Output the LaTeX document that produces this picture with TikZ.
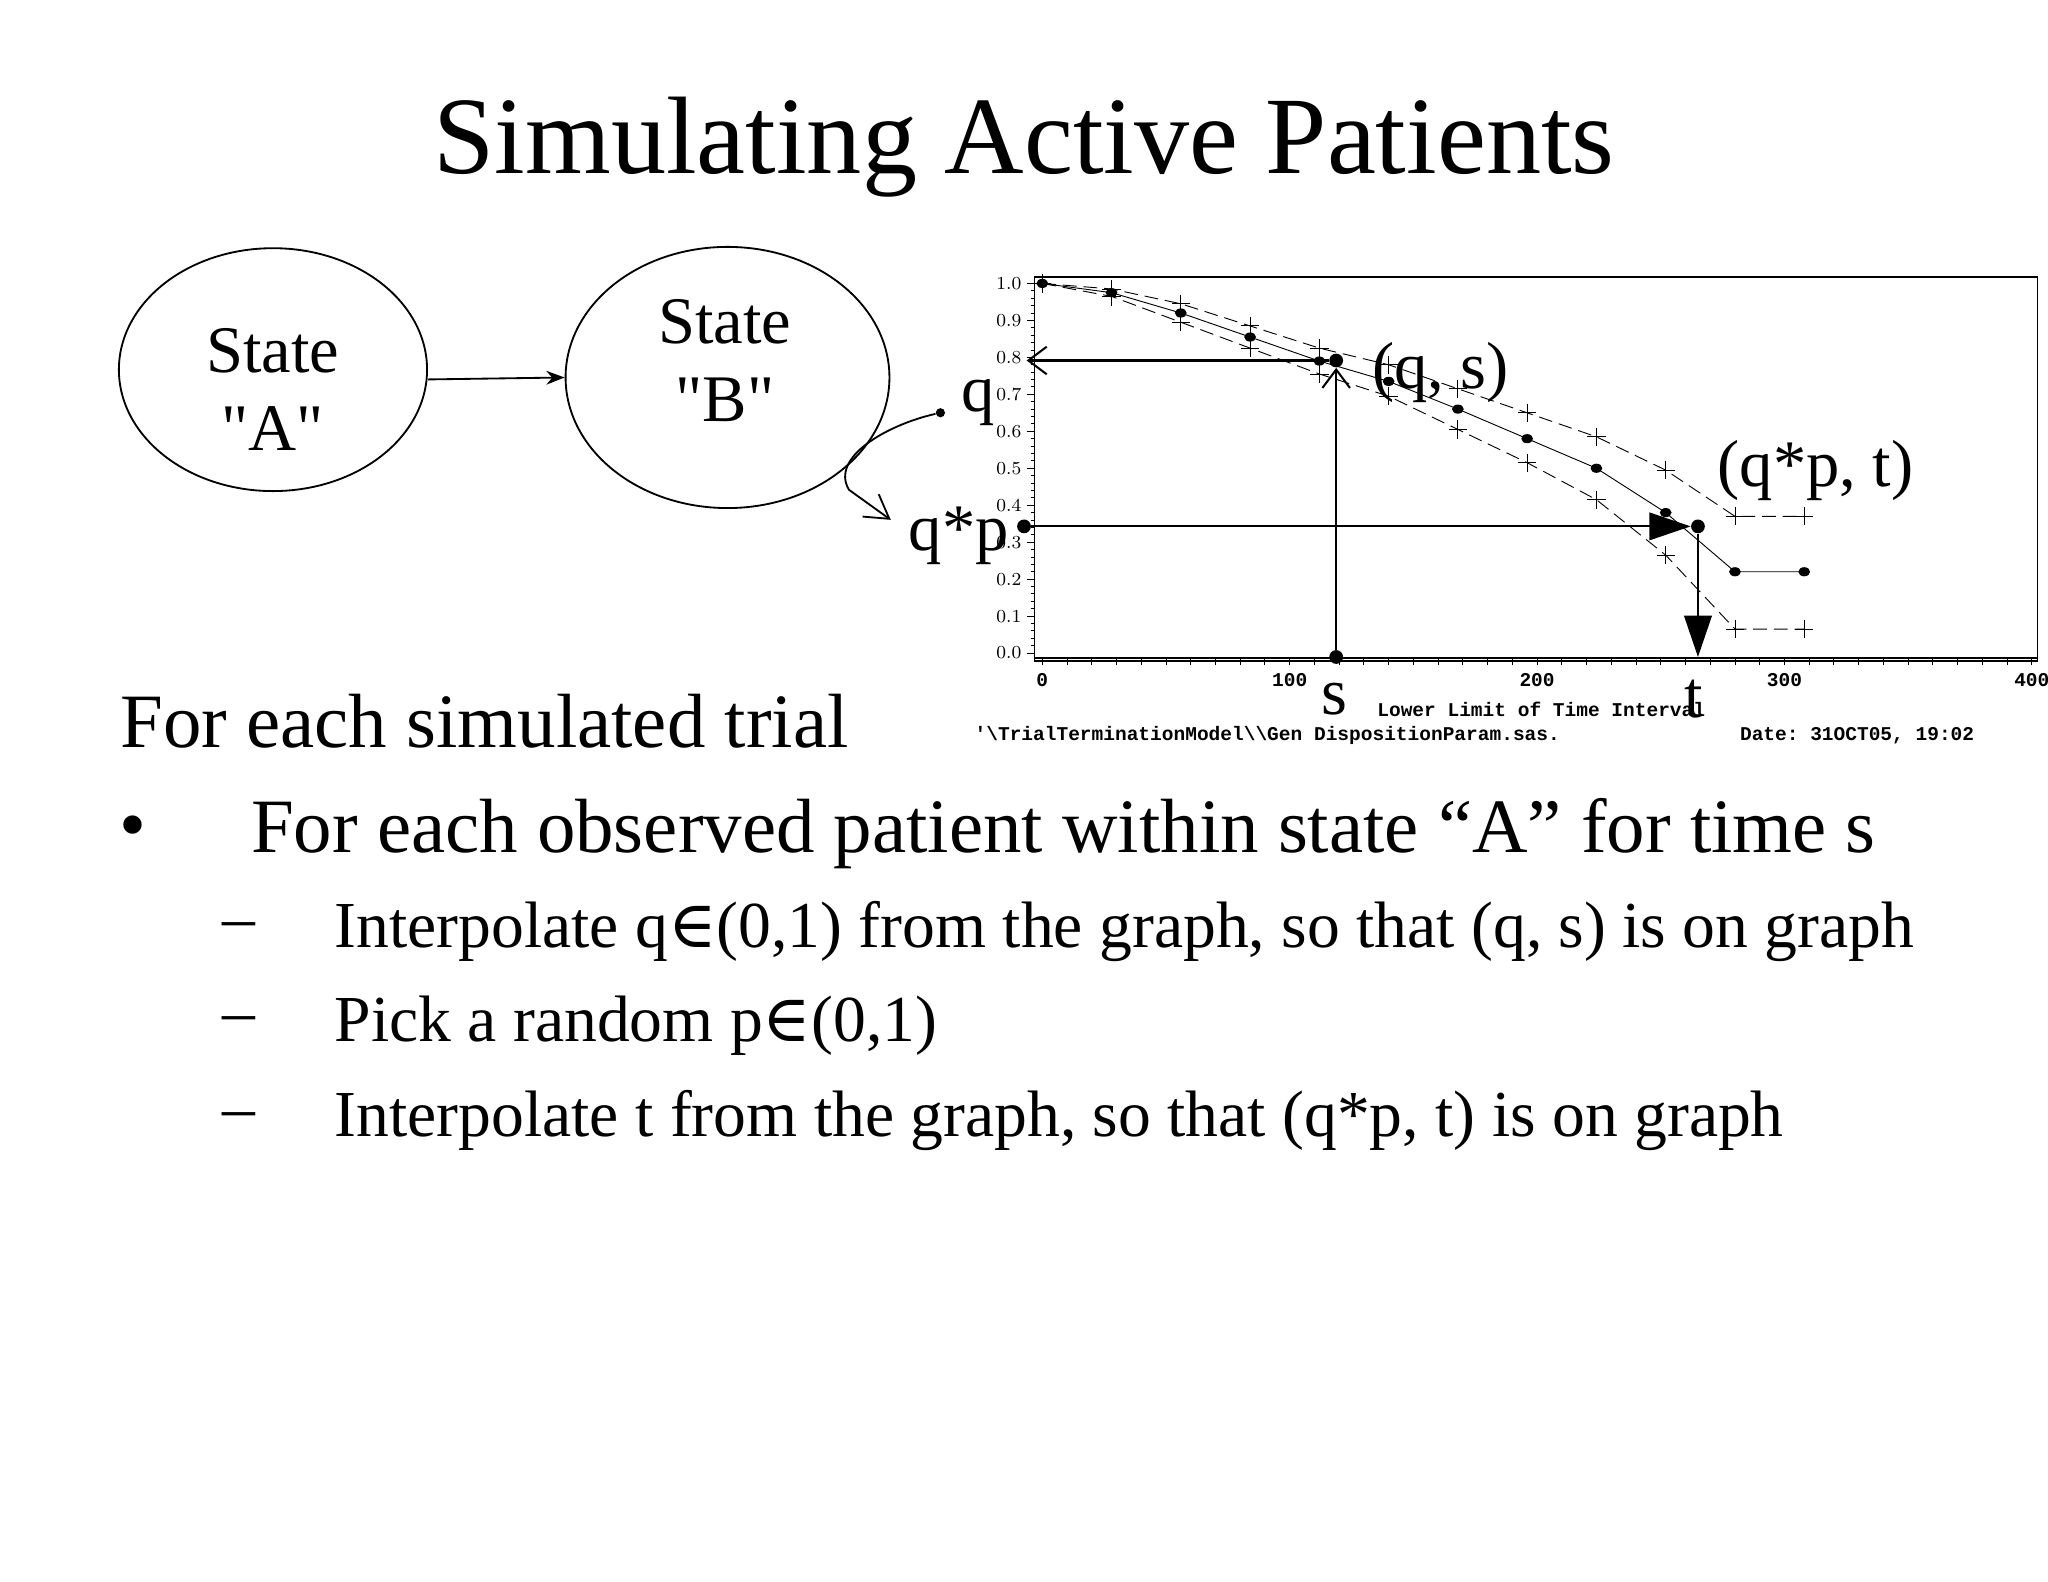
\documentclass[tikz,border=0pt]{standalone}
\usepackage{fontspec}
\setmainfont{Liberation Serif}
\setmonofont{Liberation Mono}
\newfontfamily\symfont{DejaVu Serif}
\usetikzlibrary{arrows.meta,shapes.geometric}
\begin{document}
\begin{tikzpicture}[x=0.02cm,y=-0.02cm,
  st/.style={draw,ellipse,inner sep=0pt,line width=0.8pt},
  big/.style={font=\fontsize{29}{34}\selectfont},
  body/.style={font=\fontsize{33.5}{38}\selectfont},
  sub/.style={font=\fontsize{28.6}{33}\selectfont},
  tick/.style={font=\ttfamily\bfseries\fontsize{8.5}{9}\selectfont},
  dot/.style={circle,fill,inner sep=0pt,minimum size=6pt},
  arr/.style={line width=0.9pt}]
\useasboundingbox (0,0) rectangle (1568,1211);
\def\X#1{798+#1*1.894}
\def\Y#1{500-#1*283}
\node[font=\fontsize{48}{55}\selectfont] (title) at (784,113) {Simulating Active Patients};
% states
\node[st,minimum width=4.72cm,minimum height=3.72cm] (A) at (209,283) {};
\node[st,minimum width=4.96cm,minimum height=4.0cm] (B) at (557,289) {};
\node[big,align=center] (At) at (209,298) {State\\ \textquotedbl A\textquotedbl};
\node[big,align=center] (Bt) at (555,276) {State\\ \textquotedbl B\textquotedbl};
\draw[-{Stealth[length=8pt]},line width=0.8pt] ([yshift=-0.15cm]A.east) -- (B.west);
% q and q*p
\node[circle,fill,inner sep=0pt,minimum size=4pt] (qd) at (720,316) {};
\node[big] (q) at (749,308) {q};
\node[big] (qp) at (734,410) {q*p};
\coordinate (cq) at (682,398);
\draw[line width=0.8pt,-{Straight Barb[length=10pt,width=12pt]}] (qd) .. controls (680,325) and (635,350) .. (650,375) -- (cq);
% chart frame
\draw[line width=0.6pt] (792,212) rectangle (1560,506);
\draw[line width=0.8pt] (792,504) -- (1560,504);
\draw[line width=0.8pt] (792,212) -- (792,506);
\foreach \v in {0,1,...,10}{
  \pgfmathsetmacro\yy{500-\v*28.3}
  \draw (786,\yy) -- (792,\yy);
  \pgfmathsetmacro\lab{\v/10}
  \node[tick,anchor=east,inner sep=1pt] at (784,\yy) {\pgfmathprintnumber[fixed,precision=1,zerofill]{\lab}};
}
\foreach \v in {0,...,50}{\pgfmathsetmacro\yy{500-\v*5.66}\draw (789,\yy)--(792,\yy);}
\foreach \t in {0,10,...,400}{\pgfmathsetmacro\xx{798+\t*1.894}\draw (\xx,504)--(\xx,509);}
\foreach \t in {0,100,200,300,400}{\pgfmathsetmacro\xx{798+\t*1.894}\node[tick] at (\xx,521) {\t};}
\node[tick] (xl) at (1180,543) {Lower Limit of Time Interval};
\node[tick,anchor=west] (cap1) at (740,563) {'\textbackslash TrialTerminationModel\textbackslash\textbackslash Gen DispositionParam.sas.};
\node[tick,anchor=west] (cap2) at (1326,563) {Date: 31OCT05, 19:02};
% curves
\draw[line width=0.4pt] plot coordinates {(\X{0},\Y{1}) (\X{28},\Y{.975}) (\X{56},\Y{.92}) (\X{84},\Y{.855}) (\X{112},\Y{.79}) (\X{140},\Y{.735}) (\X{168},\Y{.66}) (\X{196},\Y{.58}) (\X{224},\Y{.50}) (\X{252},\Y{.38}) (\X{280},\Y{.22}) (\X{308},\Y{.22})};
\foreach \t/\v in {0/1,28/.975,56/.92,84/.855,112/.79,140/.735,168/.66,196/.58,224/.5,252/.38,280/.22,308/.22}
  \fill (\X{\t},\Y{\v}) ellipse [x radius=4.5,y radius=3.5];
\draw[line width=0.4pt,dash pattern=on 6pt off 3pt] plot[mark=+,mark size=4pt,mark options={solid}] coordinates {(\X{0},\Y{1}) (\X{28},\Y{.985}) (\X{56},\Y{.945}) (\X{84},\Y{.885}) (\X{112},\Y{.825}) (\X{140},\Y{.78}) (\X{168},\Y{.715}) (\X{196},\Y{.65}) (\X{224},\Y{.585}) (\X{252},\Y{.495}) (\X{280},\Y{.37}) (\X{308},\Y{.37})};
\draw[line width=0.4pt,dash pattern=on 6pt off 3pt] plot[mark=+,mark size=4pt,mark options={solid}] coordinates {(\X{0},\Y{1}) (\X{28},\Y{.965}) (\X{56},\Y{.895}) (\X{84},\Y{.825}) (\X{112},\Y{.755}) (\X{140},\Y{.695}) (\X{168},\Y{.605}) (\X{196},\Y{.515}) (\X{224},\Y{.415}) (\X{252},\Y{.265}) (\X{280},\Y{.065}) (\X{308},\Y{.065})};
% construction
\node[dot] (qs) at (1023,276) {};
\node[dot] (s0) at (1023,503) {};
\coordinate (qax) at (786,276);
\draw[arr,-{Straight Barb[length=8pt,width=12pt]}] (qs) -- (qax);
\draw[arr,-{Straight Barb[length=8pt,width=12pt]}] (s0) -- (qs);
\node[dot] (qpd) at (784,403) {};
\node[dot] (tp) at (1300,403) {};
\coordinate (t0) at (1300,503);
\draw[arr,-{Triangle[length=18pt,width=12pt]}] (qpd) -- (tp);
\draw[arr,-{Triangle[length=18pt,width=12pt]}] (tp) -- (t0);
\node[big] (qsl) at (1103,285) {(q, s)};
\node[big] (qptl) at (1390,360) {(q*p, t)};
\node[big] (sl) at (1022,535) {s};
\node[big] (tl) at (1297,535) {t};
% text
\node[body,anchor=west] (h) at (86,552) {For each simulated trial};
\node[body] (b1) at (102,638) {•};
\node[body,anchor=west] (l1) at (186,638) {For each observed patient within state “A” for time s};
\foreach \yy/\tx in {713/{Interpolate q{\symfont ∈}(0,1) from the graph, so that (q, s) is on graph},785/{Pick a random p{\symfont ∈}(0,1)},858/{Interpolate t from the graph, so that (q*p, t) is on graph}}{
  \node[sub] at (183,\yy) {–};
  \node[sub,anchor=west] at (250,\yy) {\tx};
}
\end{tikzpicture}
\end{document}
